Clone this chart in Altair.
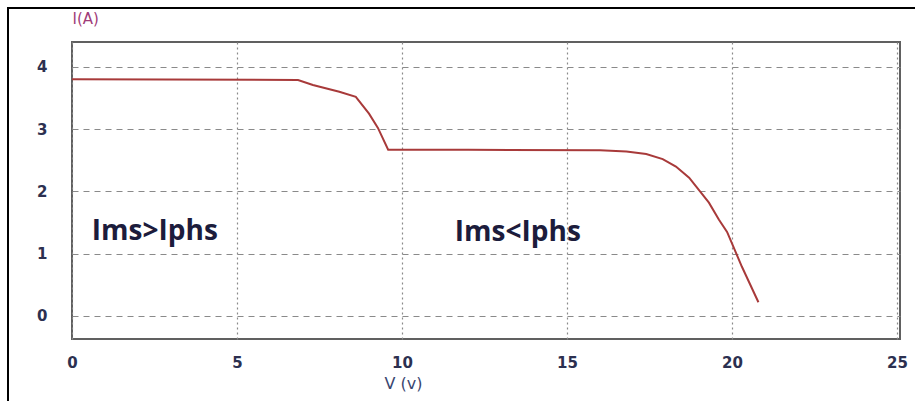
import altair as alt
import pandas as pd

# I-V curve
volts = [0, 6.85, 7.3, 8.1, 8.6, 9.0, 9.27, 9.58, 12.0, 16.0, 16.8, 17.4, 17.9, 18.3, 18.7, 19.0, 19.3, 19.6, 19.85, 20.3, 20.8]
amps = [3.8, 3.79, 3.71, 3.60, 3.52, 3.25, 3.02, 2.67, 2.67, 2.66, 2.64, 2.60, 2.52, 2.40, 2.22, 2.02, 1.82, 1.55, 1.35, 0.79, 0.22]

x_ticks = [0, 5, 10, 15, 20, 25]
y_ticks = [0, 1, 2, 3, 4]

labels = ["Ims>Iphs", "Ims<Iphs"]
label_v = [0.6, 11.6]
label_i = [1.35, 1.33]

curve = pd.DataFrame({"V": volts, "I": amps})
notes = pd.DataFrame({"label": labels, "V": label_v, "I": label_i})

xs = alt.Scale(domain=[0, 25.09], nice=False, zero=False)
ys = alt.Scale(domain=[-0.37, 4.4], nice=False, zero=False)

tick_color = "#2c3050"

x_enc = alt.X(
    "V:Q", scale=xs,
    axis=alt.Axis(
        values=x_ticks, format="d", title="V (v)", grid=True, gridDash=[2, 3], gridColor="#8a8a8a",
        gridWidth=1.2, ticks=False, domain=False, labelPadding=16, labelFont="DejaVu Sans",
        labelFontSize=15, labelFontWeight="bold", labelColor=tick_color,
        titleFont="DejaVu Sans", titleFontSize=16,
        titleFontWeight="normal", titleColor="#3a4670", titleX=331, titleY=44,
        titleAlign="center", titleBaseline="middle", labelFlush=False,
    ),
)
y_enc = alt.Y(
    "I:Q", scale=ys,
    axis=alt.Axis(
        values=y_ticks, format="d", title="I(A)", grid=True, gridDash=[6, 5], gridColor="#8a8a8a",
        gridWidth=1.2, ticks=False, domain=False, labelPadding=25, labelFont="DejaVu Sans",
        labelFontSize=15, labelFontWeight="bold", labelColor=tick_color,
        titleFont="DejaVu Sans", titleFontSize=15,
        titleFontWeight="normal", titleColor="#a03c78", titleAngle=0, titleX=0, titleY=-24,
        titleAlign="left", titleBaseline="middle", labelFlush=False,
    ),
)

line = alt.Chart(curve).mark_line(color="#a83a3a", strokeWidth=2).encode(x=x_enc, y=y_enc)

text = alt.Chart(notes).mark_text(
    align="left", baseline="middle", font="Open Sans", fontWeight="bold", fontSize=28,
    color="#1c1c3c",
).encode(x=alt.X("V:Q", scale=xs), y=alt.Y("I:Q", scale=ys), text="label:N")

frame = alt.Chart(curve).mark_rect(
    fill=None, stroke="black", strokeWidth=2, clip=False
).encode(
    x=alt.value(-64), x2=alt.value(880), y=alt.value(-34), y2=alt.value(400)
)

chart = alt.layer(frame, line, text).properties(
    width=828, height=297,
    autosize=alt.AutoSizeParams(type="none"),
    padding={"left": 72, "top": 42, "right": 15, "bottom": 62},
    background="white",
).configure_view(stroke="#606060", strokeWidth=2)

chart.save("out.html", embed_options={"renderer": "svg", "actions": False})
